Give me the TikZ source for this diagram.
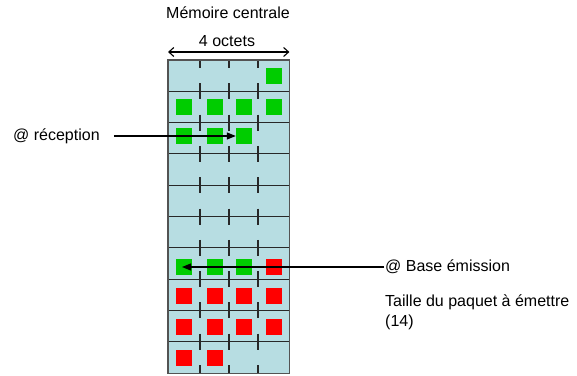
\documentclass[tikz,border=0pt]{standalone}
\usepackage{fontspec}
\setmainfont{Liberation Sans}
\usetikzlibrary{arrows.meta}
\definecolor{memblue}{RGB}{183,221,226}
\definecolor{memgreen}{RGB}{0,204,0}
\definecolor{memred}{RGB}{255,0,0}
\definecolor{memline}{RGB}{40,40,40}
\begin{document}
\begin{tikzpicture}[x=1pt,y=-1pt,
  font=\fontsize{16}{20}\selectfont,
  cellsq/.style={minimum size=16pt, inner sep=0pt, draw=none},
  gsq/.style={cellsq, fill=memgreen},
  rsq/.style={cellsq, fill=memred},
  lbl/.style={inner sep=1pt},
  gridline/.style={line width=1.1pt, draw=memline},
  ptr/.style={line width=1.1pt, -{Triangle[length=9pt,width=7pt]}}]
\useasboundingbox (0,0) rectangle (577,375);
% memory block
\node[fill=memblue, draw=none, minimum width=121pt, minimum height=313pt,
      inner sep=0pt, anchor=north west] (mem) at (168,60) {};
\foreach \i in {1,...,9}
  \draw[gridline] (168,{60+\i*31.3}) -- (289,{60+\i*31.3});
\foreach \x in {200,229,258}
  \foreach \i in {0,...,10}
    \draw[gridline] (\x,{max(60,60+\i*31.3-8)}) -- (\x,{min(373,60+\i*31.3+8)});
\draw[line width=1.1pt, draw=memline!80!white] (mem.north west) rectangle (mem.south east);
% squares
\node[gsq] (s1-4) at (273.5,76) {};
\node[gsq] (s2-1) at (184,107) {};
\node[gsq] (s2-2) at (214.5,107) {};
\node[gsq] (s2-3) at (244,107) {};
\node[gsq] (s2-4) at (273.5,107) {};
\node[gsq] (s3-1) at (184,136) {};
\node[gsq] (s3-2) at (214.5,136) {};
\node[gsq] (s3-3) at (244,136) {};
\node[gsq] (s7-1) at (184,267) {};
\node[gsq] (s7-2) at (214.5,267) {};
\node[gsq] (s7-3) at (244,267) {};
\node[rsq] (s7-4) at (273.5,267) {};
\node[rsq] (s8-1) at (184,295.5) {};
\node[rsq] (s8-2) at (214.5,295.5) {};
\node[rsq] (s8-3) at (244,295.5) {};
\node[rsq] (s8-4) at (273.5,295.5) {};
\node[rsq] (s9-1) at (184,326.5) {};
\node[rsq] (s9-2) at (214.5,326.5) {};
\node[rsq] (s9-3) at (244,326.5) {};
\node[rsq] (s9-4) at (273.5,326.5) {};
\node[rsq] (s10-1) at (184,357.5) {};
\node[rsq] (s10-2) at (214.5,357.5) {};
% titles
\node[lbl] (title) at (228,13) {Mémoire centrale};
\node[lbl] (oct) at (227,41) {4 octets};
\draw[line width=1.1pt, {Straight Barb[length=5pt,width=9pt]}-{Straight Barb[length=5pt,width=9pt]}]
  ([yshift=8pt]mem.north west) -- ([yshift=8pt]mem.north east);
% labels
\node[lbl, anchor=west] (rec) at (12,136) {@ réception};
\draw[ptr, shorten <=13pt] (rec.east) -- (s3-3.west);
\node[lbl, anchor=west] (base) at (384,267) {@ Base émission};
\draw[ptr] (base.west) -- ([xshift=-2pt]s7-1.center);
\node[lbl, anchor=base west, align=left] (taille) at (384,326.5) {Taille du paquet à émettre\\(14)};
\end{tikzpicture}
\end{document}
